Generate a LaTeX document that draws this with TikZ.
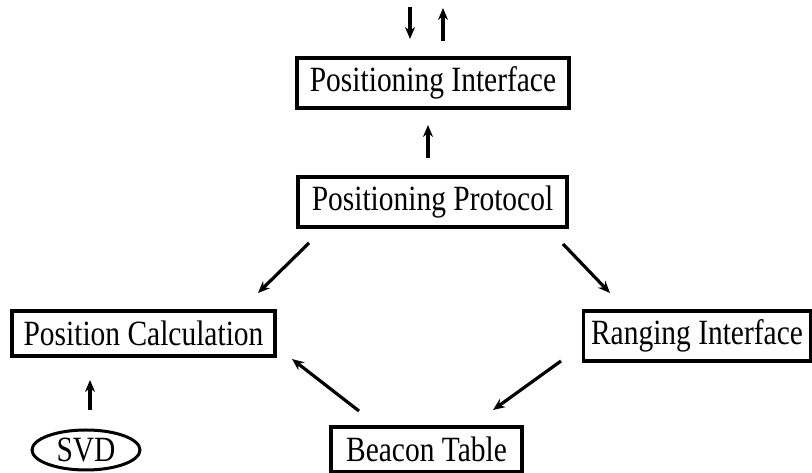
\documentclass[tikz,border=0pt]{standalone}
\usepackage{fontspec}
\setmainfont{Liberation Serif}[FakeStretch=0.83]
\usetikzlibrary{arrows.meta,shapes.geometric}
\begin{document}
\begin{tikzpicture}[x=1pt,y=1pt,
  every node/.style={font=\fontsize{35.5}{38}\selectfont},
  block/.style={draw, line width=3.4pt, rectangle, inner sep=0pt, minimum height=50pt},
  oval/.style={draw, line width=3pt, ellipse, inner sep=0pt, minimum width=108pt, minimum height=40pt},
  flow/.style={line width=3.2pt, -{Stealth[length=12pt,width=10pt,inset=4pt]}}]
\useasboundingbox (0,0) rectangle (812,473);

% blocks
\node[block, minimum width=272pt] (pi) at (433,390) {Positioning Interface};
\node[block, minimum width=269pt] (pp) at (432.5,271) {Positioning Protocol};
\node[block, minimum width=263pt, minimum height=45pt] (pc) at (143.5,139.5) {Position Calculation};
\node[block, minimum width=227pt] (ri) at (697,137) {Ranging Interface};
\node[block, minimum width=191pt, minimum height=45pt] (bt) at (426.5,23.5) {Beacon Table};
\node[oval] (svd) at (86,23) {SVD};

% arrow end points
\coordinate (inA) at (410,466);  \coordinate (inB) at (410,434);
\coordinate (outA) at (443,432); \coordinate (outB) at (443,465);
\coordinate (ppA) at (428,315);  \coordinate (piB) at (428,348);
\coordinate (pcA) at (309,230);  \coordinate (pcB) at (258,180);
\coordinate (riA) at (563,229);  \coordinate (riB) at (610,180);
\coordinate (btA) at (561,112);  \coordinate (btB) at (493,63);
\coordinate (bcA) at (359,62);   \coordinate (bcB) at (292,114);
\coordinate (svA) at (90,63);    \coordinate (svB) at (90,93);

% connectors
\draw[flow] (inA) -- (inB);
\draw[flow] (outA) -- (outB);
\draw[flow] (ppA) -- (piB);
\draw[flow] (pcA) -- (pcB);
\draw[flow] (riA) -- (riB);
\draw[flow] (btA) -- (btB);
\draw[flow] (bcA) -- (bcB);
\draw[flow] (svA) -- (svB);
\end{tikzpicture}
\end{document}
